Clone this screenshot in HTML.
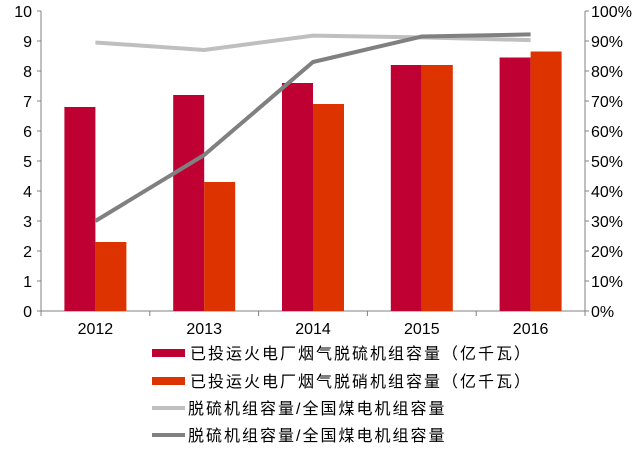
<!DOCTYPE html>
<html><head><meta charset="utf-8"><style>
body{margin:0;background:#fff;width:633px;height:458px;overflow:hidden}
svg text{font-family:"Liberation Sans","Noto Sans CJK SC",sans-serif;fill:#000}
</style></head><body>
<svg id="chart" width="633" height="458" xmlns="http://www.w3.org/2000/svg">
<g id="axes"></g><g id="bars"></g><g id="lines"></g>
<g id="legend">
 <rect x="152" y="349" width="33" height="8" fill="#BE0032"/>
 <text x="190" y="359" font-size="16" letter-spacing="2">已投运火电厂烟气脱硫机组容量（亿千瓦）</text>
 <rect x="152" y="377" width="33" height="8" fill="#DC3300"/>
 <text x="190" y="387" font-size="16" letter-spacing="2">已投运火电厂烟气脱硝机组容量（亿千瓦）</text>
 <line x1="152" y1="408" x2="185" y2="408" stroke="#BFBFBF" stroke-width="4"/>
 <text x="188" y="414" font-size="16" letter-spacing="2">脱硫机组容量/全国煤电机组容量</text>
 <line x1="152" y1="435" x2="185" y2="435" stroke="#808080" stroke-width="4"/>
 <text x="188" y="441" font-size="16" letter-spacing="2">脱硫机组容量/全国煤电机组容量</text>
</g>
</svg>
<script>
const categories=["2012","2013","2014","2015","2016"];
const desulfur=[6.8,7.2,7.6,8.2,8.45];
const denitration=[2.3,4.3,6.9,8.2,8.65];
const ratioLight=[0.895,0.87,0.918,0.912,0.903];
const ratioDark=[0.30,0.52,0.83,0.915,0.922];
const leftTicks=[0,1,2,3,4,5,6,7,8,9,10];
const rightTicks=["0%","10%","20%","30%","40%","50%","60%","70%","80%","90%","100%"];

const NS="http://www.w3.org/2000/svg";
const L=41,R=585,T=11,B=311;
const bw=(R-L)/categories.length;
const yL=v=>B-(v/10)*(B-T);
const yR=v=>B-v*(B-T);
const xc=i=>L+bw*(i+0.5);
function mk(tag,attrs,parent){const e=document.createElementNS(NS,tag);for(const k in attrs)e.setAttribute(k,attrs[k]);parent.appendChild(e);return e;}
const axes=document.getElementById('axes'),bars=document.getElementById('bars'),lines=document.getElementById('lines');

let e=mk('line',{x1:L,y1:T,x2:L,y2:B,stroke:'#808080'},axes);


e=mk('line',{x1:R,y1:T,x2:R,y2:B,stroke:'#808080'},axes);


e=mk('line',{x1:L,y1:B,x2:R,y2:B,stroke:'#808080'},axes);


leftTicks.forEach(v=>{
 const y=yL(v);
 mk('line',{x1:L-4,y1:y,x2:L,y2:y,stroke:'#808080'},axes);
 const t=mk('text',{x:L-9,y:y+6,'font-size':16,'text-anchor':'end'},axes);
 t.textContent=v;
 
 
});
rightTicks.forEach((s,i)=>{
 const y=yR(i/10);
 mk('line',{x1:R,y1:y,x2:R+4,y2:y,stroke:'#808080'},axes);
 const t=mk('text',{x:R+6,y:y+6,'font-size':16},axes);
 t.textContent=s;
 
 
});
for(let i=0;i<=categories.length;i++){mk('line',{x1:L+bw*i,y1:B,x2:L+bw*i,y2:B+5,stroke:'#808080'},axes);}
categories.forEach((c,i)=>{
 const t=mk('text',{x:xc(i),y:B+23,'font-size':16,'text-anchor':'middle'},axes);
 t.textContent=c;
 
 
 const w=31;
 let b=mk('rect',{x:xc(i)-w,y:yL(desulfur[i]),width:w,height:B-yL(desulfur[i]),fill:'#BE0032'},bars);
 
 
 b=mk('rect',{x:xc(i),y:yL(denitration[i]),width:w,height:B-yL(denitration[i]),fill:'#DC3300'},bars);
 
 
});
let p=mk('polyline',{points:ratioLight.map((v,i)=>xc(i)+','+yR(v)).join(' '),fill:'none',stroke:'#BFBFBF','stroke-width':4},lines);


p=mk('polyline',{points:ratioDark.map((v,i)=>xc(i)+','+yR(v)).join(' '),fill:'none',stroke:'#808080','stroke-width':4},lines);


</script>
</body></html>
